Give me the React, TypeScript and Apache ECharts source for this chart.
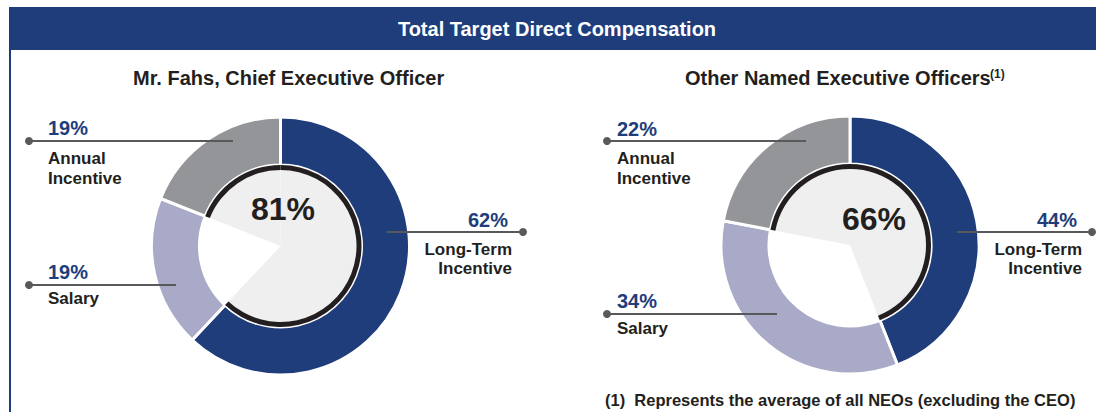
import React, { useEffect, useRef } from "react";
import * as echarts from "echarts";

// ---- data ----
const headerTitle = "Total Target Direct Compensation";
const ceoTitle = "Mr. Fahs, Chief Executive Officer";
const neoTitle = "Other Named Executive Officers";
const neoTitleNote = "(1)";
const footnote = "(1)  Represents the average of all NEOs (excluding the CEO)";
const categories = ["Long-Term Incentive", "Salary", "Annual Incentive"];
const ceoValues = [62, 19, 19];
const neoValues = [44, 34, 22];

// ---- style ----
const FONT = '"Liberation Sans", Arial, Helvetica, sans-serif';
const BLUE = "#1f3d7b";
const colors = [BLUE, "#a9a9c8", "#939598"];
const INNER = "#efefef";
const RING = "#231f20";
const LINE = "#58595b";
const TEXT = "#231f20";
const TRANSPARENT = "rgba(0,0,0,0)";
const SALARY = 1;

function donutSeries(values: number[], center: [number, number]) {
  const base = {
    type: "pie",
    center,
    startAngle: 90,
    clockwise: true,
    silent: true,
    label: { show: false },
    labelLine: { show: false },
    emphasis: { disabled: true },
  };
  return [
    {
      ...base,
      radius: [81, 129],
      itemStyle: { borderColor: "#ffffff", borderWidth: 3 },
      data: values.map((v, i) => ({ value: v, name: categories[i], itemStyle: { color: colors[i] } })),
      z: 2,
    },
    {
      ...base,
      radius: [0, 76],
      data: values.map((v, i) => ({ value: v, name: categories[i], itemStyle: { color: i === SALARY ? TRANSPARENT : INNER } })),
      z: 3,
    },
    {
      ...base,
      radius: [76, 81],
      data: values.map((v, i) => ({ value: v, name: categories[i], itemStyle: { color: i === SALARY ? TRANSPARENT : RING } })),
      z: 4,
    },
  ];
}

function txt(x: number, y: number, text: string, size: number, fill: string, align: string, lineHeight?: number) {
  return {
    type: "text",
    x,
    y,
    z: 100,
    silent: true,
    style: {
      text,
      fill,
      font: `bold ${size}px ${FONT}`,
      align,
      textAlign: align,
      verticalAlign: "middle",
      textVerticalAlign: "middle",
      lineHeight: lineHeight || size,
    },
  };
}

function leader(x1: number, x2: number, y: number, dotX: number) {
  return [
    { type: "line", z: 100, silent: true, shape: { x1, y1: y, x2, y2: y }, style: { stroke: LINE, lineWidth: 2 } },
    { type: "circle", z: 101, silent: true, shape: { cx: dotX, cy: y, r: 4 }, style: { fill: LINE } },
  ];
}

const twoLines = (s: string) => s.split(" ").join("\n");

export default function App() {
  const ref = useRef<HTMLDivElement>(null);
  useEffect(() => {
    if (!ref.current) return;
    const chart = echarts.init(ref.current, null, { renderer: "svg" });
    const ceoCenterPct = ceoValues[0] + ceoValues[2];
    const neoCenterPct = neoValues[0] + neoValues[2];
    const graphic: any[] = [
      { type: "rect", z: 90, silent: true, shape: { x: 9, y: 7, width: 1087, height: 43 }, style: { fill: BLUE } },
      { type: "rect", z: 90, silent: true, shape: { x: 9, y: 50, width: 2, height: 362 }, style: { fill: BLUE } },
      txt(557, 29, headerTitle, 20, "#ffffff", "center"),
      txt(133, 78, ceoTitle, 20, TEXT, "left"),
      txt(685, 78, neoTitle, 20, TEXT, "left"),
      txt(990, 74, neoTitleNote, 12, TEXT, "left"),
      txt(605, 400, footnote, 16.5, TEXT, "left"),
      // center values
      txt(283, 209, `${ceoCenterPct}%`, 32, TEXT, "center"),
      txt(874, 219, `${neoCenterPct}%`, 32, TEXT, "center"),
      // CEO labels
      txt(48, 128, `${ceoValues[2]}%`, 20, BLUE, "left"),
      ...leader(29, 233, 141, 29),
      txt(48, 168, twoLines(categories[2]), 17, TEXT, "left", 20),
      txt(48, 272, `${ceoValues[1]}%`, 20, BLUE, "left"),
      ...leader(29, 176, 285, 29),
      txt(48, 298, categories[1], 17, TEXT, "left"),
      txt(508, 220, `${ceoValues[0]}%`, 20, BLUE, "right"),
      ...leader(387, 523, 232, 523),
      txt(512, 259, twoLines(categories[0]), 17, TEXT, "right", 18.5),
      // NEO labels
      txt(617, 129, `${neoValues[2]}%`, 20, BLUE, "left"),
      ...leader(607, 806, 141, 607),
      txt(617, 168, twoLines(categories[2]), 17, TEXT, "left", 20),
      txt(617, 301, `${neoValues[1]}%`, 20, BLUE, "left"),
      ...leader(607, 777, 314, 607),
      txt(617, 328, categories[1], 17, TEXT, "left"),
      txt(1077, 220, `${neoValues[0]}%`, 20, BLUE, "right"),
      ...leader(957, 1092, 232, 1092),
      txt(1082, 259, twoLines(categories[0]), 17, TEXT, "right", 18.5),
    ];
    chart.setOption({
      animation: false,
      backgroundColor: "#ffffff",
      series: [...donutSeries(ceoValues, [280.5, 246]), ...donutSeries(neoValues, [850, 245])],
      graphic,
    });
    return () => chart.dispose();
  }, []);
  return <div ref={ref} style={{ position: "fixed", left: 0, top: 0, width: 1096, height: 412 }} />;
}
